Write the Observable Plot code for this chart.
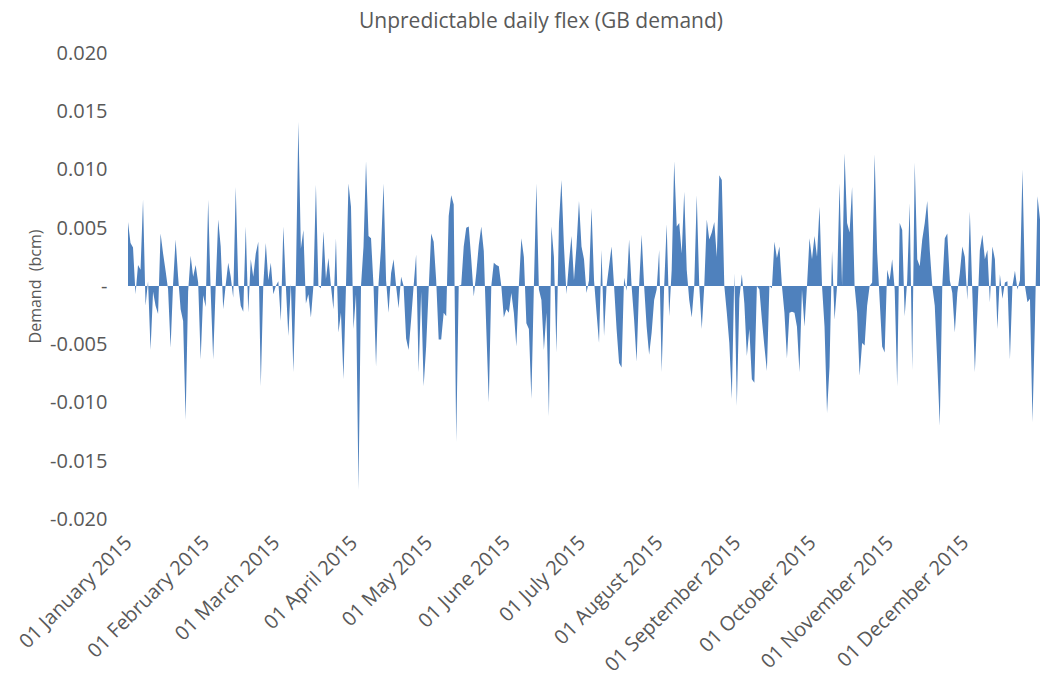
<!DOCTYPE html>
<html>
<head>
<meta charset="utf-8">
<script src="https://cdn.jsdelivr.net/npm/d3@7"></script>
<script src="https://cdn.jsdelivr.net/npm/@observablehq/plot@0.6"></script>
<style>
  body { margin: 0; background: #fff; }
  #title { width: 1042px; height: 40px; line-height: 40px; box-sizing: border-box; padding-left: 40px;
           text-align: center; font-family: "Open Sans", sans-serif; font-size: 21px; color: #595959; }
</style>
</head>
<body>
<div id="title">Unpredictable daily flex (GB demand)</div>
<div id="chart"></div>
<script>
// Daily unpredictable flex (bcm), 1 Jan 2015 .. 31 Dec 2015
const startDate = "2015-01-01";
const flex = [
  0.0055, 0.0037, 0.0033, -0.0007, 0.0018, 0.0014, 0.0074, -0.0017, 0.0004, -0.0055,
  -0.0005, -0.0017, -0.0024, 0.0045, 0.0028, 0.0013, -0.0003, -0.0053, 0.0002, 0.0040,
  0.0008, -0.0020, -0.0030, -0.0115, -0.0005, 0.0026, 0.0008, 0.0018, 0.0003, -0.0063,
  -0.0008, -0.0018, 0.0074, -0.0005, -0.0063, 0.0000, 0.0057, 0.0034, -0.0020, 0.0001,
  0.0020, 0.0008, -0.0010, 0.0085, 0.0002, -0.0017, -0.0022, 0.0051, -0.0023, 0.0023,
  0.0008, 0.0028, 0.0038, -0.0086, 0.0001, 0.0037, 0.0005, 0.0020, -0.0007, 0.0000,
  0.0004, -0.0030, 0.0051, 0.0000, -0.0043, 0.0002, -0.0074, 0.0005, 0.0141, 0.0032,
  0.0048, -0.0015, -0.0007, -0.0027, 0.0000, 0.0087, 0.0000, -0.0002, 0.0047, 0.0006,
  0.0024, 0.0000, -0.0020, 0.0041, -0.0040, -0.0023, -0.0080, 0.0000, 0.0088, 0.0068,
  -0.0037, -0.0007, -0.0175, 0.0000, 0.0034, 0.0107, 0.0043, 0.0041, 0.0000, -0.0069,
  0.0002, 0.0033, 0.0088, 0.0005, -0.0023, 0.0011, 0.0023, 0.0000, -0.0019, 0.0008,
  0.0000, -0.0045, -0.0055, -0.0029, 0.0000, 0.0027, -0.0074, -0.0005, -0.0086, -0.0052,
  -0.0003, 0.0045, 0.0038, 0.0005, -0.0046, -0.0046, -0.0023, -0.0026, 0.0060, 0.0078,
  0.0070, -0.0134, 0.0000, 0.0001, 0.0034, 0.0050, 0.0051, 0.0023, -0.0009, 0.0011,
  0.0035, 0.0051, 0.0030, -0.0037, -0.0100, 0.0000, 0.0020, 0.0018, 0.0017, 0.0000,
  -0.0027, -0.0020, -0.0023, -0.0006, -0.0023, -0.0052, 0.0000, 0.0041, 0.0025, -0.0032,
  -0.0037, -0.0097, 0.0000, 0.0088, -0.0003, -0.0012, -0.0055, -0.0023, -0.0112, 0.0051,
  0.0025, -0.0057, 0.0054, 0.0091, 0.0034, -0.0007, 0.0020, 0.0043, 0.0005, 0.0034,
  0.0073, 0.0034, 0.0023, -0.0006, 0.0005, 0.0067, 0.0005, -0.0023, -0.0049, 0.0031,
  -0.0043, 0.0000, 0.0017, 0.0034, 0.0000, -0.0037, -0.0066, -0.0070, 0.0007, -0.0004,
  0.0040, 0.0000, -0.0029, -0.0065, 0.0000, 0.0044, 0.0000, -0.0035, -0.0059, -0.0040,
  -0.0012, -0.0003, 0.0031, -0.0074, 0.0000, 0.0053, -0.0026, 0.0014, 0.0107, 0.0051,
  0.0054, 0.0028, 0.0081, 0.0014, -0.0012, -0.0027, 0.0000, 0.0078, 0.0000, -0.0037,
  0.0000, 0.0057, 0.0040, 0.0046, 0.0055, 0.0025, 0.0095, 0.0091, 0.0000, -0.0023,
  -0.0049, -0.0097, 0.0011, -0.0103, -0.0011, 0.0010, -0.0015, -0.0060, -0.0037, -0.0080,
  -0.0083, 0.0000, -0.0003, -0.0029, -0.0052, -0.0073, 0.0000, -0.0002, 0.0038, 0.0024,
  0.0034, 0.0000, -0.0023, -0.0062, -0.0023, -0.0022, -0.0023, -0.0035, -0.0074, -0.0003,
  -0.0035, 0.0000, 0.0041, 0.0023, 0.0043, 0.0025, 0.0068, 0.0000, -0.0035, -0.0109,
  -0.0069, 0.0030, -0.0029, 0.0000, 0.0088, 0.0000, 0.0114, 0.0054, 0.0046, 0.0085,
  0.0000, -0.0023, -0.0077, -0.0049, -0.0051, -0.0017, 0.0000, 0.0003, 0.0113, 0.0029,
  -0.0012, -0.0052, -0.0057, 0.0014, 0.0005, 0.0023, -0.0003, -0.0086, 0.0054, 0.0048,
  -0.0026, 0.0005, 0.0071, -0.0072, 0.0106, 0.0023, 0.0017, 0.0040, 0.0054, 0.0073,
  0.0031, 0.0000, -0.0017, -0.0066, -0.0120, 0.0000, 0.0041, 0.0045, 0.0005, -0.0006,
  -0.0040, -0.0006, 0.0011, 0.0034, 0.0025, -0.0012, 0.0064, -0.0006, -0.0074, -0.0023,
  0.0031, 0.0044, 0.0023, 0.0031, -0.0014, 0.0034, 0.0023, -0.0037, 0.0010, -0.0011,
  0.0003, 0.0004, -0.0063, 0.0000, 0.0013, -0.0003, 0.0005, 0.0100, 0.0000, -0.0014,
  -0.0011, -0.0117, -0.0029, 0.0077, 0.0057
];
const yTicks = [0.020, 0.015, 0.010, 0.005, 0, -0.005, -0.010, -0.015, -0.020];
const yTitle = "Demand  (bcm)";

const start = new Date(startDate + "T00:00:00Z");
const rows = flex.map((v, i) => ({date: d3.utcDay.offset(start, i), value: v}));
const end = d3.utcDay.offset(start, flex.length - 1);
const monthTicks = d3.utcMonth.range(start, d3.utcDay.offset(end, 1));
const fmtDate = d3.utcFormat("%d %B %Y");

const chart = Plot.plot({
  width: 1042,
  height: 643,
  marginLeft: 128,
  marginRight: 2,
  marginTop: 13,
  marginBottom: 164,
  style: {fontFamily: "'Open Sans', sans-serif", color: "#595959", background: "#fff"},
  x: {type: "utc", domain: [start, end]},
  y: {domain: [-0.02, 0.02]},
  marks: [
    Plot.areaY(rows, {x: "date", y: "value", fill: "#4F81BD", curve: "linear"}),
    Plot.axisY({
      ticks: yTicks, tickSize: 0, tickPadding: 21, fontSize: 20,
      tickFormat: d => d === 0 ? "-" : d3.format(".3f")(d).replace("−", "-"),
      label: null
    }),
    Plot.text([yTitle], {frameAnchor: "left", textAnchor: "middle", dx: -93, rotate: -90, fontSize: 16, fill: "#595959", style: "white-space: pre"}),
    Plot.axisX({
      ticks: monthTicks, tickSize: 0, tickPadding: 20, tickRotate: -45, fontSize: 20,
      tickFormat: fmtDate, label: null
    })
  ]
});
document.getElementById("chart").appendChild(chart);
</script>
</body>
</html>
